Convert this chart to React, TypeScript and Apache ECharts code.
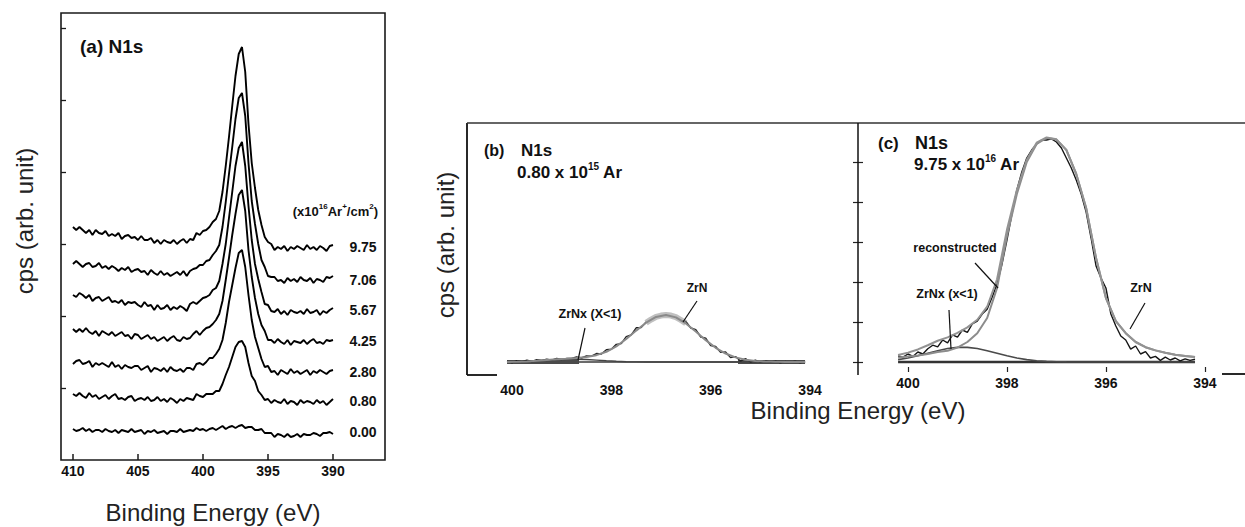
import React, { useEffect, useRef } from "react";
import * as echarts from "echarts";

const FONT = '"Liberation Sans", Arial, Helvetica, sans-serif';

// ---------- Panel (a): N1s spectra vs Ar+ dose ----------
const energyA = [410,409.75,409.5,409.25,409,408.75,408.5,408.25,408,407.75,407.5,407.25,407,406.75,406.5,406.25,406,405.75,405.5,405.25,405,404.75,404.5,404.25,404,403.75,403.5,403.25,403,402.75,402.5,402.25,402,401.75,401.5,401.25,401,400.75,400.5,400.25,400,399.75,399.5,399.25,399,398.75,398.5,398.25,398,397.75,397.5,397.25,397,396.75,396.5,396.25,396,395.75,395.5,395.25,395,394.75,394.5,394.25,394,393.75,393.5,393.25,393,392.75,392.5,392.25,392,391.75,391.5,391.25,391,390.75,390.5,390.25,390];

const dose975 = [233,230,233,230,227,230,225,230,227,226,229,224,226,224,227,221,224,225,222,223,220,224,220,220,222,217,220,216,220,218,217,220,216,219,221,217,221,220,227,225,229,230,233,238,241,249,268,294,323,354,384,406,413,388,336,297,272,250,235,223,218,216,210,213,211,214,209,213,211,214,212,210,215,211,213,210,214,212,209,214,215];
const dose706 = [196,199,196,193,196,197,193,194,197,192,194,191,194,192,189,192,190,193,188,190,191,188,189,185,190,187,185,189,185,187,184,186,188,185,189,184,189,191,192,195,195,199,200,205,209,215,233,258,286,313,341,362,367,344,297,259,236,216,200,193,184,183,183,179,180,177,182,179,181,178,183,180,179,182,177,181,180,178,183,182,184];
const dose567 = [165,163,167,165,162,165,159,162,163,159,161,163,158,159,157,160,155,158,157,158,155,153,158,154,155,150,155,151,152,155,150,153,151,154,152,149,156,158,156,159,162,163,165,170,172,179,196,216,242,268,294,312,318,294,254,220,196,181,168,156,155,149,148,151,146,149,145,150,148,147,149,146,151,147,148,150,145,149,147,150,152];
const dose425 = [131,128,131,128,132,128,126,129,124,129,127,125,128,124,126,128,124,125,121,126,125,121,123,125,121,123,119,121,123,119,122,124,120,119,123,121,122,126,129,125,129,132,133,136,140,146,159,180,202,225,246,265,270,249,210,183,162,146,135,129,120,120,117,121,118,116,120,115,119,118,117,120,116,119,121,117,118,116,120,119,120];
const dose280 = [96,99,100,96,97,99,93,97,95,97,95,93,98,93,95,91,95,93,92,94,94,90,92,94,88,92,91,89,92,88,93,90,89,91,88,92,92,90,96,97,95,98,102,102,106,111,120,137,158,175,192,207,210,193,165,140,123,112,101,93,94,88,89,85,90,88,86,91,87,89,86,88,90,85,89,87,90,88,86,89,90];
const dose080 = [66,64,67,64,62,67,63,65,61,63,65,61,64,66,61,62,60,63,64,59,61,62,60,63,59,60,63,59,61,58,62,60,57,61,59,62,61,60,66,64,63,66,66,66,69,69,76,85,93,103,113,118,119,113,97,84,79,69,65,60,61,57,60,58,57,61,56,59,58,55,60,57,59,58,56,60,57,59,55,58,61];
const dose000 = [31,29,30,32,29,31,28,30,30,28,31,29,28,30,27,30,29,28,31,28,29,30,26,29,28,30,27,28,29,26,29,29,28,31,28,29,30,29,32,30,31,29,31,32,30,32,34,31,33,34,32,34,35,32,33,33,30,30,31,27,27,27,23,26,25,23,26,23,24,26,23,26,25,25,27,26,24,27,27,28,26];

const spectraA = [dose975, dose706, dose567, dose425, dose280, dose080, dose000];
const doseLabels = ["9.75", "7.06", "5.67", "4.25", "2.80", "0.80", "0.00"];
const xTicksA = [410, 405, 400, 395, 390];
const yTicksA = [72, 144, 216, 288, 360, 432];

// ---------- Panel (b): 0.80 x 10^15 Ar ----------
const fitEnergyB = [400.1,399.9,399.7,399.5,399.3,399.1,398.9,398.7,398.5,398.3,398.1,397.9,397.7,397.5,397.3,397.1,396.9,396.7,396.5,396.3,396.1,395.9,395.7,395.5,395.3,395.1,394.9,394.7,394.5,394.3,394.1];
const zrnxB = [0.002,0.005,0.015,0.03,0.048,0.063,0.07,0.07,0.063,0.048,0.032,0.018,0.008,0.003,0,0,0,0,0,0,0,0,0,0,0,0,0,0,0,0,0];
const fitSumB = [0.002,0.005,0.015,0.03,0.049,0.067,0.081,0.098,0.124,0.171,0.256,0.392,0.574,0.785,0.983,1.127,1.175,1.116,0.965,0.761,0.546,0.356,0.212,0.115,0.057,0.026,0.010,0.004,0.001,0,0];
const dataEnergyB = [400.1,400,399.9,399.8,399.7,399.6,399.5,399.4,399.3,399.2,399.1,399,398.9,398.8,398.7,398.6,398.5,398.4,398.3,398.2,398.1,398,397.9,397.8,397.7,397.6,397.5,397.4,397.3,397.2,397.1,397,396.9,396.8,396.7,396.6,396.5,396.4,396.3,396.2,396.1,396,395.9,395.8,395.7,395.6,395.5,395.4,395.3,395.2,395.1,395,394.9,394.8,394.7,394.6,394.5,394.4,394.3,394.2,394.1];
const dataB = [0.02,-0.02,0.035,0.01,0.045,0.012,0.06,0.04,0.069,0.048,0.087,0.064,0.091,0.09,0.128,0.10,0.154,0.145,0.211,0.20,0.306,0.32,0.442,0.46,0.634,0.68,0.855,0.86,1.0,null,null,null,null,null,null,1.03,1.015,0.85,0.81,0.625,0.596,0.41,0.386,0.24,0.252,0.11,0.135,0.025,0.087,0.0,0.046,-0.003,0.03,-0.003,0.024,-0.018,0.011,-0.01,0.02,-0.02,0.01];
const topEnergyB = [397.3,397.2,397.1,397.0,396.9,396.8,396.7,396.6,396.5];
const topB = [0.98,1.06,1.13,1.16,1.175,1.16,1.12,1.05,0.97];
const bgEnergyB = [400.1, 394.1];
const bgB = [0, 0];
const bandLeftEnergyB = [400.1, 398.65];
const bandRightEnergyB = [395.45, 394.1];
const bandB = [0, 0];

// ---------- Panel (c): 9.75 x 10^16 Ar ----------
const fitEnergyC = [400.2,400.0,399.8,399.6,399.4,399.2,399.0,398.8,398.6,398.4,398.2,398.0,397.8,397.6,397.4,397.2,397.0,396.8,396.6,396.4,396.2,396.0,395.8,395.6,395.4,395.2,395.0,394.8,394.6,394.4,394.2];
const zrnC = [0.115,0.135,0.16,0.20,0.25,0.28,0.36,0.5,0.72,1.1,1.85,3.15,4.2,5.0,5.45,5.6,5.56,5.3,4.7,3.85,2.6,1.6,1.02,0.72,0.5,0.37,0.29,0.23,0.18,0.15,0.125];
const zrnxC = [0.059,0.10,0.154,0.218,0.282,0.336,0.366,0.366,0.336,0.282,0.218,0.154,0.10,0.059,0.032,0.016,0.007,0.003,0,0,0,0,0,0,0,0,0,0,0,0,0];
const reconC = [0.174,0.235,0.314,0.418,0.532,0.616,0.726,0.866,1.056,1.382,2.068,3.304,4.30,5.059,5.482,5.616,5.567,5.303,4.7,3.85,2.6,1.6,1.02,0.72,0.5,0.37,0.29,0.23,0.18,0.15,0.125];
const dataEnergyC = [400.2,400.1,400,399.9,399.8,399.7,399.6,399.5,399.4,399.3,399.2,399.1,399,398.9,398.8,398.7,398.6,398.5,398.4,398.3,398.2,398.1,398,397.9,397.8,397.7,397.6,397.5,397.4,397.3,397.2,397.1,397,396.9,396.8,396.7,396.6,396.5,396.4,396.3,396.2,396.1,396,395.9,395.8,395.7,395.6,395.5,395.4,395.3,395.2,395.1,395,394.9,394.8,394.7,394.6,394.5,394.4,394.3,394.2];
const dataC = [0.15,0.12,0.2,0.14,0.25,0.2,0.33,0.42,0.38,0.55,0.48,0.68,0.62,0.8,0.74,0.95,1.02,1.2,1.32,1.62,1.95,2.45,3.05,3.7,4.3,4.75,5.1,5.3,5.45,5.55,5.55,5.58,5.5,5.35,5.1,4.85,4.55,4.2,3.75,3.1,2.4,2.1,1.85,1.2,0.9,0.65,0.55,0.32,0.4,0.2,0.26,0.1,0.14,0.04,0.12,0.05,0.1,0.03,0.08,0.04,0.07];
const bgEnergyC = [400.2, 394.2];
const bgC = [0, 0];

const xTicksBC = [400, 398, 396, 394];
const yTicksBC = [0, 1, 2, 3, 4, 5];

function pairs(xs: number[], ys: (number | null)[]) {
  return xs.map((x, i) => [x, ys[i]]);
}

function line(name: string, idx: number, xs: number[], ys: (number | null)[], color: string, width: number, extra: any = {}) {
  return {
    type: "line",
    name,
    xAxisIndex: idx,
    yAxisIndex: idx,
    data: pairs(xs, ys),
    showSymbol: false,
    symbol: "none",
    silent: true,
    connectNulls: false,
    lineStyle: { color, width, ...(extra.lineStyle || {}) },
    z: extra.z ?? 2,
  };
}

function txt(text: string, x: number, y: number, size: number, o: any = {}) {
  const weight = o.normal ? "" : "bold ";
  const align = o.align || "left";
  return {
    type: "text",
    x,
    y,
    rotation: o.rotation || 0,
    silent: true,
    z: 100,
    style: {
      text,
      font: `${weight}${size}px ${FONT}`,
      fill: o.fill || "#111",
      align,
      textAlign: align,
      verticalAlign: "middle",
      textVerticalAlign: "middle",
      ...(o.rich ? { rich: o.rich, lineHeight: o.lineHeight } : {}),
    },
  };
}

function seg(x1: number, y1: number, x2: number, y2: number, w = 1.2, color = "#111") {
  return { type: "line", silent: true, z: 100, shape: { x1, y1, x2, y2 }, style: { stroke: color, lineWidth: w } };
}

const supRich = (size: number) => ({ s: { font: `bold ${size}px ${FONT}`, verticalAlign: "top", fill: "#111" } });

const doseLabelY = [247, 280, 310, 341, 372, 401, 432];

export default function App() {
  const ref = useRef<HTMLDivElement>(null);
  useEffect(() => {
    document.body.style.margin = "0";
    if (!ref.current) return;
    const chart = echarts.init(ref.current, undefined, { renderer: "svg" });

    const labelStyle = (margin: number, customValues: number[]) => ({
      customValues,
      fontFamily: FONT,
      fontWeight: "bold",
      fontSize: 14,
      color: "#111",
      margin,
    });

    const series: any[] = [];
    spectraA.forEach((s, i) => series.push(line("a" + doseLabels[i], 0, energyA, s, "#000", 1.9)));

    series.push(line("bg-b", 1, bgEnergyB, bgB, "#3a3a3a", 1.4, { z: 1 }));
    series.push(line("band-left-b", 1, bandLeftEnergyB, bandB, "#4a4a4a", 4, { z: 1 }));
    series.push(line("band-right-b", 1, bandRightEnergyB, bandB, "#4a4a4a", 4, { z: 1 }));
    series.push(line("zrnx-b", 1, fitEnergyB, zrnxB, "#444", 1.4, { z: 2 }));
    series.push(line("data-b", 1, dataEnergyB, dataB, "#222", 1.4, { z: 3 }));
    series.push(line("top-b", 1, topEnergyB, topB, "rgba(140,140,140,0.55)", 6, { z: 3 }));
    series.push(line("fit-b", 1, fitEnergyB, fitSumB, "#8a8a8a", 2, { z: 4 }));

    series.push(line("bg-c", 2, bgEnergyC, bgC, "#333", 2.6, { z: 1 }));
    series.push(line("zrnx-c", 2, fitEnergyC, zrnxC, "#4a4a4a", 1.6, { z: 2 }));
    series.push(line("data-c", 2, dataEnergyC, dataC, "#151515", 1.4, { z: 3 }));
    series.push(line("zrn-c", 2, fitEnergyC, zrnC, "#8c8c8c", 2, { z: 4 }));
    series.push(line("rec-c", 2, fitEnergyC, reconC, "#939393", 2, { z: 4 }));

    const graphic: any[] = [
      // panel (a) texts
      txt("(a) N1s", 80, 46, 19),
      txt("(x10{s|16}Ar{s|+}/cm{s|2})", 378, 211, 13, { align: "right", rich: supRich(8), lineHeight: 18 }),
      ...doseLabels.map((d, i) => txt(d, 363, doseLabelY[i], 14, { align: "center" })),
      txt("cps (arb. unit)", 24, 221, 24, { normal: true, align: "center", rotation: Math.PI / 2, fill: "#222" }),
      txt("Binding Energy (eV)", 213, 512, 24, { normal: true, align: "center", fill: "#222" }),

      // panel (b)/(c) frame
      seg(467, 123, 467, 375, 1.8),
      seg(467, 123, 1245, 123, 1.5, "#333"),
      seg(858, 123, 858, 375, 1.5),
      seg(467, 375, 497, 375, 1.8),
      seg(1222, 374, 1245, 374, 1.8),

      // panel (b) texts
      txt("(b)", 484, 150, 16),
      txt("N1s", 521, 150, 17),
      txt("0.80 x 10{s|15} Ar", 517, 172, 17, { rich: supRich(10), lineHeight: 22 }),
      txt("cps (arb. unit)", 445, 245, 24, { normal: true, align: "center", rotation: Math.PI / 2, fill: "#222" }),
      txt("ZrNx (X<1)", 590, 314, 12.5, { align: "center" }),
      seg(585, 328, 578, 360),
      txt("ZrN", 697, 288, 12, { align: "center" }),
      seg(697, 301, 683, 322),

      // panel (c) texts
      txt("(c)", 878, 143, 17),
      txt("N1s", 915, 143, 18),
      txt("9.75 x 10{s|16} Ar", 914, 164, 17, { rich: supRich(10), lineHeight: 22 }),
      txt("reconstructed", 955, 248, 12.5, { align: "center" }),
      seg(975, 263, 998, 288),
      txt("ZrNx (x<1)", 947, 294, 12.5, { align: "center" }),
      seg(949, 310, 951, 349),
      txt("ZrN", 1141, 288, 12.5, { align: "center" }),
      seg(1145, 303, 1130, 329),

      txt("Binding Energy (eV)", 858, 410, 24, { normal: true, align: "center", fill: "#222" }),
    ];

    chart.setOption({
      animation: false,
      backgroundColor: "#ffffff",
      grid: [
        { left: 61, top: 13, width: 324, height: 447, show: true, borderColor: "#1a1a1a", borderWidth: 1.6, backgroundColor: "transparent", outerBoundsMode: "none" },
        { left: 467, top: 123, width: 391, height: 252, outerBoundsMode: "none" },
        { left: 858, top: 123, width: 387, height: 249, outerBoundsMode: "none" },
      ],
      xAxis: [
        {
          gridIndex: 0, type: "value", inverse: true, min: 386, max: 410.92,
          axisLine: { show: false, onZero: false },
          splitLine: { show: false },
          axisTick: { show: true, inside: true, length: 6, customValues: xTicksA, lineStyle: { color: "#1a1a1a", width: 1.5 } },
          axisLabel: labelStyle(4, xTicksA),
        },
        {
          gridIndex: 1, type: "value", inverse: true, min: 393.034, max: 400.906,
          axisLine: { show: false, onZero: false },
          splitLine: { show: false },
          axisTick: { show: false },
          axisLabel: labelStyle(8, xTicksBC),
        },
        {
          gridIndex: 2, type: "value", inverse: true, min: 393.19, max: 401.01,
          axisLine: { show: false, onZero: false },
          splitLine: { show: false },
          axisTick: { show: true, inside: true, length: 5, customValues: xTicksBC, lineStyle: { color: "#222", width: 1.2 } },
          axisLabel: labelStyle(4, xTicksBC),
        },
      ],
      yAxis: [
        {
          gridIndex: 0, type: "value", min: 0, max: 447,
          axisLine: { show: false, onZero: false },
          splitLine: { show: false },
          axisTick: { show: true, inside: true, length: 5, customValues: yTicksA, lineStyle: { color: "#1a1a1a", width: 1.3 } },
          axisLabel: { show: false },
        },
        {
          gridIndex: 1, type: "value", position: "right", min: -0.325, max: 5.975,
          axisLine: { show: false, onZero: false },
          splitLine: { show: false },
          axisTick: { show: true, inside: true, length: 5, customValues: yTicksBC, lineStyle: { color: "#222", width: 1.2 } },
          axisLabel: { show: false },
        },
        {
          gridIndex: 2, type: "value", position: "left", min: -0.25, max: 5.975,
          axisLine: { show: false, onZero: false },
          splitLine: { show: false },
          axisTick: { show: true, inside: true, length: 5, customValues: yTicksBC, lineStyle: { color: "#222", width: 1.2 } },
          axisLabel: { show: false },
        },
      ],
      series,
      graphic,
    });
    return () => chart.dispose();
  }, []);
  return <div ref={ref} style={{ width: 1245, height: 527 }} />;
}
